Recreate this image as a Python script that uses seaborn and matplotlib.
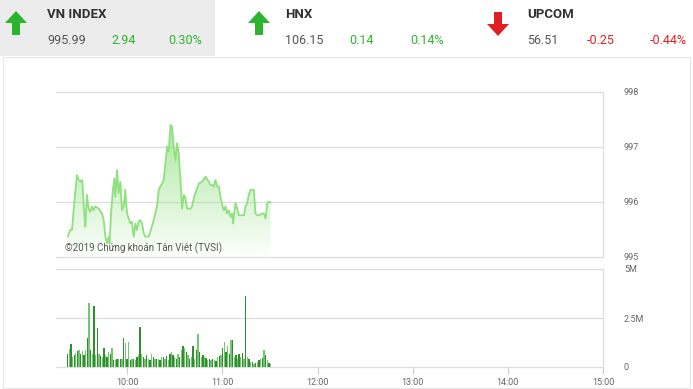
import numpy as np
import matplotlib
matplotlib.use("Agg")
import matplotlib.pyplot as plt
from matplotlib.patches import Rectangle, Polygon
import seaborn as sns

# ---------------- data ----------------
# header quotes
idx_names = ["VN INDEX", "HNX", "UPCOM"]
idx_values = ["995.99", "106.15", "56.51"]
idx_changes = ["2.94", "0.14", "-0.25"]
idx_pcts = ["0.30%", "0.14%", "-0.44%"]

# intraday price (minutes after 9:00, index value)
price_minutes = [22.3, 24.0, 25.1, 26.5, 28.2, 29.3, 30.3, 31.4, 31.8, 32.8, 33.5, 34.5, 35.6, 36.6,
                 37.7, 38.7, 39.8, 41.9, 44.0, 45.1, 46.1, 47.2, 48.2, 48.8, 49.7, 50.9, 51.8, 52.4,
                 53.5, 54.5, 55.6, 56.6, 57.7, 58.7, 59.8, 61.9, 62.9, 64.0, 65.1, 66.1, 67.2, 68.2,
                 69.3, 70.3, 71.4, 73.5, 74.5, 76.6, 78.7, 79.8, 81.9, 82.9, 84.0, 85.1, 86.1, 87.2,
                 88.2, 89.3, 90.3, 91.4, 92.4, 93.5, 94.5, 95.6, 96.6, 97.7, 99.8, 100.8, 101.9,
                 104.0, 105.1, 107.2, 109.3, 111.4, 112.4, 113.5, 114.5, 115.6, 116.6, 117.7, 118.7,
                 119.8, 120.8, 121.9, 122.9, 124.0, 125.1, 126.1, 126.7, 128.2, 129.3, 130.3, 132.4,
                 133.5, 134.5, 135.6, 136.6, 137.7, 139.8, 140.8, 141.9, 142.9, 145.1, 146.1, 147.2,
                 148.2, 149.3, 150.3]
price_values = [995.37, 995.49, 995.49, 995.98, 996.49, 996.40, 996.37, 996.40, 996.31, 995.79,
                995.55, 996.13, 995.88, 995.82, 995.92, 995.85, 995.92, 995.88, 995.79, 995.67,
                995.37, 995.25, 995.37, 995.25, 995.79, 996.22, 996.43, 996.10, 996.58, 996.16,
                996.37, 995.85, 995.92, 996.22, 995.79, 995.61, 995.64, 995.37, 995.61, 995.49,
                995.64, 995.67, 995.61, 995.43, 995.37, 995.37, 995.46, 995.67, 995.92, 996.22,
                996.34, 996.40, 996.70, 997.01, 996.92, 997.40, 997.37, 997.01, 996.76, 997.07,
                996.89, 996.40, 995.88, 996.13, 996.07, 995.88, 995.88, 995.92, 996.07, 996.25,
                996.34, 996.37, 996.46, 996.37, 996.31, 996.31, 996.28, 996.40, 996.28, 996.28,
                996.10, 995.95, 995.85, 995.92, 995.79, 995.85, 995.73, 995.79, 995.61, 995.98,
                995.88, 995.76, 995.76, 995.76, 995.92, 995.98, 996.13, 996.22, 996.22, 995.79,
                995.76, 995.76, 995.79, 995.79, 995.70, 995.98, 996.01, 995.99]

# volume per bar (millions of shares)
volume_m = [0.68, 0.94, 1.16, 0.51, 0.60, 0.72, 0.82, 0.86, 0.68, 0.82,
            0.60, 0.86, 1.46, 3.25, 0.89, 0.68, 3.13, 0.60, 1.97, 0.68,
            0.55, 0.51, 0.99, 0.60, 0.51, 0.77, 0.68, 0.99, 0.34, 0.38,
            0.43, 0.43, 0.39, 0.43, 1.46, 1.20, 0.43, 1.28, 0.34, 0.39,
            0.43, 0.34, 0.51, 0.60, 2.05, 0.68, 0.51, 0.43, 0.60, 0.43,
            0.38, 0.68, 0.51, 0.43, 0.39, 0.43, 0.38, 0.51, 0.51, 0.43,
            0.55, 0.38, 0.68, 0.77, 0.60, 0.51, 0.43, 0.65, 0.51, 0.86,
            1.06, 0.99, 0.77, 0.60, 0.43, 0.51, 1.06, 0.43, 0.86, 1.68,
            0.77, 0.51, 0.60, 0.51, 0.48, 0.34, 0.43, 0.38, 0.43, 0.34,
            0.31, 0.51, 0.55, 0.60, 0.99, 1.28, 0.77, 1.06, 0.68, 1.37,
            1.40, 0.51, 0.60, 0.43, 0.65, 0.51, 0.72, 0.43, 3.60, 0.51,
            0.43, 0.26, 0.26, 0.17, 0.21, 0.26, 0.34, 0.43, 0.48, 0.86,
            0.60, 0.34, 0.21, 0.14]
volume_first_minute = 22.3
volume_last_minute = 150.3

time_tick_minutes = [60, 120, 180, 240, 300, 360]
time_tick_labels = ["10:00", "11:00", "12:00", "13:00", "14:00", "15:00"]
price_ticks = [995, 996, 997, 998]
volume_ticks = [0, 2.5, 5]
volume_tick_labels = ["0", "2.5M", "5M"]
watermark = "©2019 Chứng khoán Tân Việt (TVSI)"

# ---------------- style ----------------
sns.set_style("white")
plt.rcParams['font.family'] = ['Roboto', 'DejaVu Sans']

W, H = 693, 389
fig = plt.figure(figsize=(W / 100, H / 100), dpi=100)

def fx(px):
    return px / W

def fy(py):
    return 1 - py / H

GREEN = "#2cb52c"
RED = "#e02020"
GRID = "#dedede"
TXT = "#555555"

# header background
fig.patches.append(Rectangle((0, fy(56)), fx(215), 56 / H, transform=fig.transFigure,
                             facecolor="#ececec", edgecolor="none", zorder=0))
# chart container frame
fig.patches.append(Rectangle((fx(3), fy(388)), fx(687), (388 - 57) / H, transform=fig.transFigure,
                             facecolor="none", edgecolor="#e6e6e6", lw=0.8, zorder=0))


def arrow(x0, up, color):
    cx = x0 + 11
    if up:
        pts = [(cx, 11), (x0 + 22, 23), (cx + 4, 23), (cx + 4, 35), (cx - 4, 35), (cx - 4, 23), (x0, 23)]
    else:
        pts = [(cx, 36), (x0 + 22, 24), (cx + 4, 24), (cx + 4, 12), (cx - 4, 12), (cx - 4, 24), (x0, 24)]
    fig.patches.append(Polygon([(fx(a), fy(b)) for a, b in pts], closed=True,
                               transform=fig.transFigure, facecolor=color, edgecolor="none"))

header_x = [(5, 47, 111, 168), (248, 285, 349, 410), (487, 527, 587, 650)]
for i in range(3):
    ax_, nx, cx_, px_ = header_x[i]
    up = not idx_changes[i].startswith("-")
    col = GREEN if up else RED
    arrow(ax_, up, col)
    fig.text(fx(nx), fy(14), idx_names[i], fontsize=9.5, fontweight="bold", color="#333333",
             va="center", ha="left")
    fig.text(fx(nx), fy(41), idx_values[i], fontsize=9, color=TXT, va="center", ha="left")
    fig.text(fx(cx_), fy(41), idx_changes[i], fontsize=9, color=col, va="center", ha="left")
    fig.text(fx(px_), fy(41), idx_pcts[i], fontsize=9, color=col, va="center", ha="left")

# ---------------- price panel ----------------
L, R = 56, 603
ax1 = fig.add_axes([fx(L), fy(257), fx(R - L), (257 - 92) / H])
t = np.array(price_minutes)
p = np.array(price_values)

ymin, ymax = price_ticks[0], price_ticks[-1]
grad = np.zeros((256, 1, 4))
base = np.array(matplotlib.colors.to_rgb("#8fe07e"))
grad[:, 0, :3] = base
grad[:, 0, 3] = np.linspace(0.02, 0.75, 256)
top = p.max()
im = ax1.imshow(grad, extent=[t.min(), t.max(), ymin, top], origin="lower",
                aspect="auto", zorder=1, interpolation="bilinear")
poly = ax1.fill_between(t, p, ymin, facecolor="none", edgecolor="none")
im.set_clip_path(poly.get_paths()[0], transform=ax1.transData)

sns.lineplot(x=t, y=p, ax=ax1, color="#8fe07e", linewidth=1.3, zorder=3)

ax1.set_xlim(15, 360)
ax1.set_ylim(ymin, ymax)
ax1.set_yticks(price_ticks)
ax1.set_yticklabels([str(v) for v in price_ticks])
ax1.yaxis.tick_right()
ax1.tick_params(axis="y", length=0, pad=15, labelsize=6.5, labelcolor="#666666")
ax1.set_xticks([])
for y in price_ticks:
    ax1.axhline(y, color=GRID, lw=0.9, zorder=0, clip_on=False)
for s in ["top", "left", "bottom"]:
    ax1.spines[s].set_visible(False)
ax1.spines["right"].set_color(GRID)
ax1.spines["right"].set_linewidth(0.9)
ax1.set_xlabel("")
ax1.set_ylabel("")
ax1.text((65 - L) / (R - L), (257 - 248) / 165, watermark, transform=ax1.transAxes,
         fontsize=7, color="#555555", ha="left", va="center", zorder=4)

# ---------------- volume panel ----------------
ax2 = fig.add_axes([fx(L), fy(367), fx(R - L), (367 - 269) / H])
vt = np.linspace(volume_first_minute, volume_last_minute, len(volume_m))
bar_colors = ["#2f8f2f" if i % 2 == 0 else "#72c86c" for i in range(len(volume_m))]
ax2.bar(vt, volume_m, width=0.85, color=bar_colors, linewidth=0, zorder=2)
ax2.set_xlim(15, 360)
ax2.set_ylim(0, volume_ticks[-1])
ax2.set_yticks(volume_ticks)
ax2.set_yticklabels(volume_tick_labels)
ax2.yaxis.tick_right()
ax2.tick_params(axis="y", length=0, pad=15, labelsize=6.5, labelcolor="#666666")
ax2.set_xticks(time_tick_minutes)
ax2.set_xticklabels(time_tick_labels)
ax2.tick_params(axis="x", length=5, width=0.8, color="#cccccc", direction="out",
                labelsize=6.5, labelcolor="#666666", pad=3, bottom=True)
for y in volume_ticks:
    ax2.axhline(y, color=GRID, lw=0.9, zorder=0, clip_on=False)
for s in ["top", "left", "bottom"]:
    ax2.spines[s].set_visible(False)
ax2.spines["right"].set_color(GRID)
ax2.spines["right"].set_linewidth(0.9)

fig.savefig("out.png", dpi=100)
